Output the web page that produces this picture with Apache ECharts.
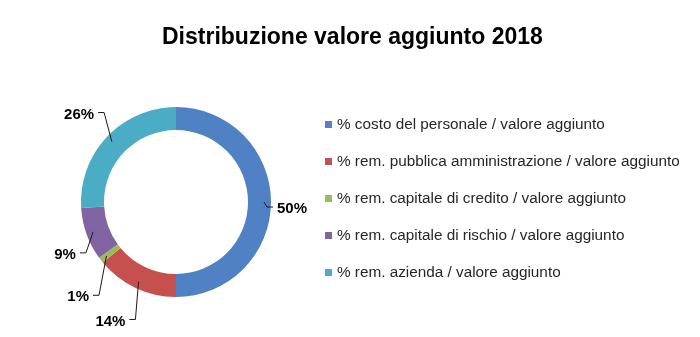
<!DOCTYPE html>
<html>
<head>
<meta charset="utf-8">
<script src="https://cdn.jsdelivr.net/npm/echarts@6/dist/echarts.min.js"></script>
<style>
  html, body { margin: 0; padding: 0; background: #ffffff; }
  #chart { width: 700px; height: 337px; }
</style>
</head>
<body>
<div id="chart"></div>
<script>
const titleText = 'Distribuzione valore aggiunto 2018';
const categories = [
  '% costo del personale / valore aggiunto',
  '% rem. pubblica amministrazione / valore aggiunto',
  '% rem. capitale di credito / valore aggiunto',
  '% rem. capitale di rischio / valore aggiunto',
  '% rem. azienda / valore aggiunto'
];
const values = [50, 14, 1, 9, 26];
const colors = ['#4f81c4', '#c6504d', '#9bbb59', '#8064a2', '#4bacc6'];
// small nudges of each percentage label away from its default outside position
const labelNudgeX = [-10, 3, 3, 5, 2];
const labelNudgeY = [7, 29, 34, 19, -19];

const chart = echarts.init(document.getElementById('chart'), null, { renderer: 'canvas' });

const ringData = categories.map((name, i) => ({
  name: name,
  value: values[i],
  itemStyle: { color: colors[i] }
}));

const labelData = categories.map((name, i) => ({
  name: name,
  value: values[i]
}));

function layoutLabel(params) {
  const i = params.dataIndex;
  const dx = labelNudgeX[i];
  const dy = labelNudgeY[i];
  const r = params.labelRect;
  const pts = params.labelLinePoints;
  const anchor = pts[0];
  const isLeft = pts[pts.length - 1][0] < anchor[0];
  const midY = r.y + dy + r.height / 2 - 2;
  const gap = 4;
  const seg = 6;
  let sideX, elbowX;
  if (isLeft) {
    sideX = r.x + dx + r.width + gap;
    elbowX = sideX + seg;
  } else {
    sideX = r.x + dx - gap;
    elbowX = sideX - seg;
  }
  return {
    dx: dx,
    dy: dy,
    labelLinePoints: [[anchor[0], anchor[1]], [elbowX, midY], [sideX, midY]]
  };
}

chart.setOption({
  animation: false,
  backgroundColor: '#ffffff',
  title: {
    text: titleText,
    left: 157,
    top: 21,
    textStyle: {
      fontFamily: 'Liberation Sans, Arial, sans-serif',
      fontSize: 23,
      fontWeight: 'bold',
      color: '#000000'
    }
  },
  legend: {
    orient: 'vertical',
    left: 320,
    top: 112,
    itemWidth: 7,
    itemHeight: 7,
    itemGap: 22,
    icon: 'rect',
    data: categories,
    textStyle: {
      fontFamily: 'Liberation Sans, Arial, sans-serif',
      fontSize: 15.3,
      color: '#262626'
    }
  },
  series: [
    {
      type: 'pie',
      name: 'ring',
      center: [176, 202],
      radius: [72, 95],
      startAngle: 90,
      clockwise: true,
      silent: true,
      label: { show: false },
      labelLine: { show: false },
      itemStyle: { borderWidth: 0 },
      data: ringData,
      z: 1
    },
    {
      type: 'pie',
      name: 'labels',
      center: [176, 202],
      radius: [0, 88],
      startAngle: 90,
      clockwise: true,
      silent: true,
      avoidLabelOverlap: false,
      itemStyle: { color: 'rgba(0,0,0,0)', borderWidth: 0 },
      label: {
        show: true,
        position: 'outside',
        formatter: '{c}%',
        fontFamily: 'Liberation Sans, Arial, sans-serif',
        fontSize: 15,
        fontWeight: 'bold',
        color: '#000000'
      },
      labelLine: {
        show: true,
        length: 12,
        length2: 6,
        lineStyle: { color: '#1a1a1a', width: 1 }
      },
      labelLayout: layoutLabel,
      data: labelData,
      z: 5
    }
  ]
});
</script>
</body>
</html>
